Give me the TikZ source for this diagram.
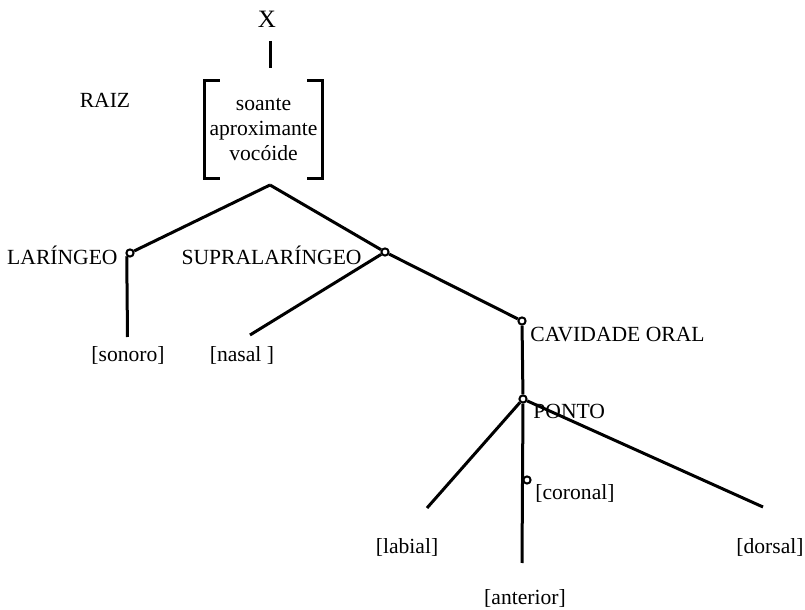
\documentclass[tikz,border=0pt]{standalone}
\usepackage{fontspec}
\setmainfont{Liberation Serif}
\usetikzlibrary{positioning}
\tikzstyle{knot} = [circle, draw=black, line width=1pt, inner sep=0pt, minimum size=3.6pt, fill=white]
\tikzstyle{lbl} = [inner sep=0pt, font=\fontsize{10.8}{12.5}\selectfont]
\tikzstyle{featbox} = [lbl, align=center, minimum width=58.5pt, minimum height=48.5pt]
\tikzstyle{edge} = [line width=1.5pt, black]

\begin{document}
\begin{tikzpicture}[x=0.5pt, y=-0.5pt]
\useasboundingbox (0,0) rectangle (805,610);

\node (x) [lbl, anchor=base, font=\fontsize{12.5}{14}\selectfont] at (267,28) {X};
\node (raiz) [featbox] at (263.5,129.5) {soante\\aproximante\\vocóide};
\node (raizlbl) [lbl, anchor=base] at (105,108) {RAIZ};
\coordinate (apex) at (270,185);

\node (lar) [knot] at (130,253) {};
\node (supra) [knot] at (385,252) {};
\node (cav) [knot] at (522,321) {};
\node (ponto) [knot] at (523,399) {};
\node (cor) [knot] at (527,480) {};

\node (larlbl) [lbl, anchor=base east] at (118,265) {LARÍNGEO};
\node (supralbl) [lbl, anchor=base east] at (362,265) {SUPRALARÍNGEO};
\node (cavlbl) [lbl, anchor=base west] at (530,342) {CAVIDADE ORAL};
\node (pontolbl) [lbl, anchor=base west] at (533,419) {PONTO};
\node (corlbl) [lbl, anchor=base west] at (535,500) {[coronal]};

\coordinate (sonend) at (127.5,337);
\coordinate (nasend) at (250,335);
\coordinate (labend) at (427,508);
\coordinate (dorend) at (763,507);
\coordinate (antend) at (522,563);

\node (sonoro) [lbl, anchor=base] at (128,362) {[sonoro]};
\node (nasal) [lbl, anchor=base] at (242,362) {[nasal ]};
\node (labial) [lbl, anchor=base] at (407,553) {[labial]};
\node (dorsal) [lbl, anchor=base] at (770,553) {[dorsal]};
\node (anterior) [lbl, anchor=base] at (525,604) {[anterior]};

% matriz da raiz
\draw [edge, shorten >=6.5pt] ([xshift=1.5pt,yshift=-6.5pt]x.base) -- ([xshift=1.5pt]x.base |- raiz.north);
\draw [edge] ([xshift=7.5pt]raiz.north west) -| (raiz.south west) -- ++(15,0);
\draw [edge] ([xshift=-7.5pt]raiz.north east) -| (raiz.south east) -- ++(-15,0);

% arvore
\draw [edge] (apex) -- (lar);
\draw [edge] (apex) -- (supra);
\draw [edge] (lar.south west) -- (sonend);
\draw [edge] (supra) -- (nasend);
\draw [edge] (supra) -- (cav);
\draw [edge] (cav) -- (ponto);
\draw [edge] (ponto) -- (labend);
\draw [edge] (ponto) -- (dorend);
\draw [edge] (ponto.south) -- (antend);

\end{tikzpicture}
\end{document}
